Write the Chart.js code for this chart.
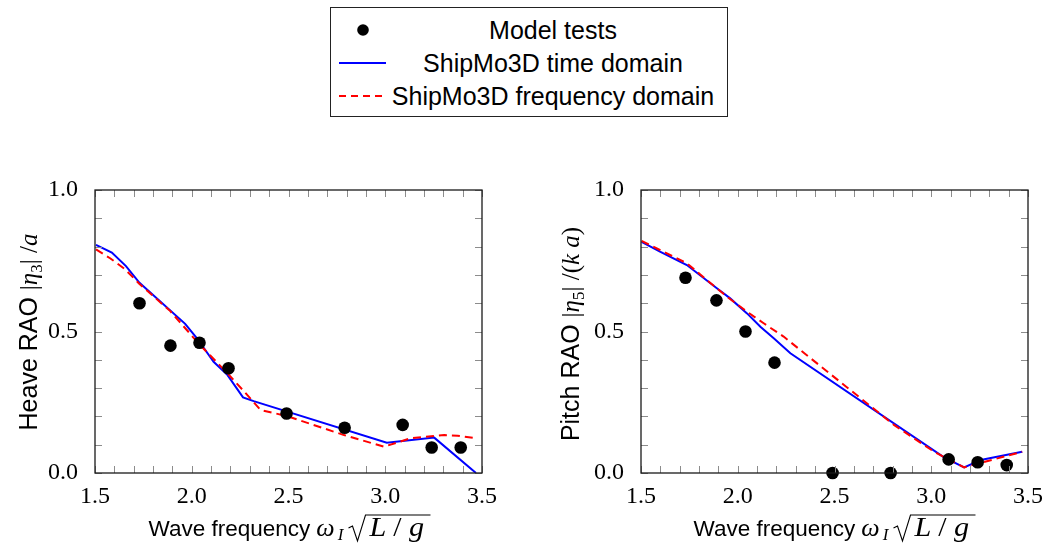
<!DOCTYPE html>
<html>
<head>
<meta charset="utf-8">
<script src="https://cdn.jsdelivr.net/npm/chart.js@4.4.1/dist/chart.umd.min.js"></script>
<style>
body { margin: 0; width: 1050px; height: 554px; position: relative; background: #fff; overflow: hidden; font-family: "Liberation Sans", Arial, sans-serif; }
#legend { position: absolute; left: 330px; top: 7px; width: 398px; height: 110px; border: 1px solid #222; box-sizing: border-box; }
.row { position: absolute; left: 0; width: 100%; height: 32px; }
.sym { position: absolute; left: 7px; top: 0; width: 48px; height: 32px; }
.txt { position: absolute; left: 56px; right: 8px; top: 0; text-align: center; font-size: 25px; line-height: 32px; color: #000; white-space: nowrap; }
#heave { position: absolute; left: 0; top: 120px; }
#pitch { position: absolute; left: 525px; top: 120px; }
</style>
</head>
<body>
<div id="legend"></div>
<canvas id="heave" width="525" height="434"></canvas>
<canvas id="pitch" width="525" height="434"></canvas>
<script>
// series labels (shared legend)
var seriesLabels = ["Model tests", "ShipMo3D time domain", "ShipMo3D frequency domain"];

// wave frequency of the model tests (both panels)
var testFreq = [1.73, 1.89, 2.04, 2.19, 2.49, 2.79, 3.09, 3.24, 3.39];

// heave RAO
var heaveTest = [0.60, 0.45, 0.46, 0.37, 0.21, 0.16, 0.17, 0.09, 0.09];
var heaveTimeFreq = [1.505, 1.587, 1.66, 1.73, 1.966, 2.027, 2.113, 2.185, 2.265, 2.32, 3.008, 3.253, 3.469];
var heaveTime = [0.806, 0.779, 0.731, 0.672, 0.527, 0.476, 0.393, 0.346, 0.267, 0.254, 0.107, 0.125, 0.0];
var heaveFreqFreq = [1.505, 1.578, 1.655, 1.73, 1.889, 2.035, 2.185, 2.268, 2.355, 2.493, 2.787, 2.994, 3.132, 3.305, 3.374, 3.469];
var heaveFreq = [0.790, 0.759, 0.720, 0.668, 0.572, 0.458, 0.352, 0.290, 0.223, 0.201, 0.134, 0.093, 0.123, 0.134, 0.132, 0.123];

// pitch RAO
var pitchTest = [0.69, 0.61, 0.50, 0.39, 0.0, 0.0, 0.048, 0.038, 0.028];
var pitchTimeFreq = [1.503, 1.598, 1.737, 1.892, 1.961, 2.048, 2.117, 2.186, 2.272, 3.066, 3.17, 3.256, 3.47];
var pitchTime = [0.817, 0.782, 0.735, 0.653, 0.617, 0.564, 0.517, 0.476, 0.423, 0.055, 0.020, 0.046, 0.075];
var pitchFreqFreq = [1.503, 1.737, 1.944, 2.048, 2.134, 2.237, 2.807, 3.015, 3.17, 3.47];
var pitchFreq = [0.82, 0.741, 0.623, 0.57, 0.529, 0.482, 0.170, 0.075, 0.020, 0.075];

// axes
var xRange = [1.5, 3.5];
var yRange = [0, 1];
var xTicks = [1.5, 2.0, 2.5, 3.0, 3.5];
var yTicks = [0.0, 0.5, 1.0];

var SANS = '"Liberation Sans", Arial, sans-serif';
var SERIF = '"Liberation Serif", "DejaVu Serif", serif';

function pts(xs, ys) {
    return xs.map(function (x, i) { return { x: x, y: ys[i] }; });
}

// legend
(function () {
    var lg = document.getElementById("legend");
    var syms = [
        '<svg width="48" height="32"><circle cx="25" cy="16" r="5.8" fill="#000"/></svg>',
        '<svg width="48" height="32"><line x1="1" y1="16" x2="48" y2="16" stroke="#0000ff" stroke-width="2"/></svg>',
        '<svg width="48" height="32"><line x1="1" y1="16" x2="48" y2="16" stroke="#ff0000" stroke-width="2" stroke-dasharray="7 5"/></svg>'
    ];
    for (var i = 0; i < seriesLabels.length; i++) {
        var row = document.createElement("div");
        row.className = "row";
        row.style.top = (6 + i * 33) + "px";
        row.innerHTML = '<div class="sym">' + syms[i] + '</div><div class="txt">' + seriesLabels[i] + '</div>';
        lg.appendChild(row);
    }
})();

// draw a line of mixed-font text, centred at cx, baseline at cy
// run: t text, f font, dy shift, sx horizontal stretch, adv fixed advance,
// root = radical sign with an overline of length bar
function drawRuns(ctx, runs, cx, cy, rotate) {
    ctx.save();
    ctx.translate(cx, cy);
    if (rotate) ctx.rotate(-Math.PI / 2);
    ctx.fillStyle = "#000";
    ctx.strokeStyle = "#000";
    ctx.textBaseline = "alphabetic";
    ctx.textAlign = "left";
    var total = 0;
    runs.forEach(function (r) {
        if (r.root) { r.w = r.adv; }
        else {
            ctx.font = r.f;
            r.gw = ctx.measureText(r.t).width * (r.sx || 1);
            r.w = r.adv || r.gw;
        }
        total += r.w;
    });
    var x = -total / 2;
    runs.forEach(function (r) {
        if (r.root) {
            var top = -21;
            ctx.lineWidth = 1.1;
            ctx.beginPath();
            ctx.moveTo(x + 2, -8);
            ctx.lineTo(x + 6, -10);
            ctx.lineTo(x + 11, 5);
            ctx.lineTo(x + r.w - 1, top);
            ctx.lineTo(x + r.w + r.bar, top);
            ctx.stroke();
        } else {
            ctx.font = r.f;
            ctx.save();
            ctx.translate(x + (r.w - r.gw) / 2, r.dy || 0);
            ctx.scale(r.sx || 1, 1);
            ctx.fillText(r.t, 0, 0);
            ctx.restore();
        }
        x += r.w;
    });
    ctx.restore();
}

var framePlugin = {
    id: "frame",
    afterDraw: function (chart, args, opts) {
        var ctx = chart.ctx, a = chart.chartArea;
        var xs = chart.scales.x, ys = chart.scales.y;
        ctx.save();
        // inward ticks on all four sides every 0.1
        ctx.strokeStyle = "#8c8c8c";
        ctx.lineWidth = 1;
        ctx.beginPath();
        for (var k = 0; k <= 20; k++) {
            var px = Math.round(xs.getPixelForValue(xRange[0] + k * 0.1)) + 0.5;
            ctx.moveTo(px, a.bottom); ctx.lineTo(px, a.bottom - 7);
            ctx.moveTo(px, a.top); ctx.lineTo(px, a.top + 7);
        }
        for (var j = 0; j <= 10; j++) {
            var py = Math.round(ys.getPixelForValue(yRange[0] + j * 0.1)) + 0.5;
            ctx.moveTo(a.left, py); ctx.lineTo(a.left + 7, py);
            ctx.moveTo(a.right, py); ctx.lineTo(a.right - 7, py);
        }
        ctx.stroke();
        ctx.strokeStyle = "#1a1a1a";
        ctx.lineWidth = 1.3;
        ctx.strokeRect(a.left, a.top, a.right - a.left, a.bottom - a.top);
        ctx.restore();
        drawRuns(ctx, opts.xTitle, opts.xPos[0], opts.xPos[1], false);
        drawRuns(ctx, opts.yTitle, opts.yPos[0], opts.yPos[1], true);
    }
};

var xTitleRuns = function () {
    return [
        { t: "Wave frequency ", f: "22.5px " + SANS },
        { t: "\u03c9", f: "italic 26px " + SERIF, adv: 18 },
        { t: "I", f: "italic 17px " + SERIF, dy: 4, adv: 12 },
        { root: true, adv: 20, bar: 64 },
        { t: "L", f: "italic 27px " + SERIF, sx: 1.12, adv: 23 },
        { t: "/", f: "27px " + SERIF, sx: 1.1, adv: 16 },
        { t: "g", f: "italic 27px " + SERIF, sx: 1.12, adv: 22 }
    ];
};

function makeChart(id, test, timeF, time, freqF, freq, yTitle, yAxisWidth, padRight, xPos, yPos) {
    var ctx = document.getElementById(id).getContext("2d");
    return new Chart(ctx, {
        type: "scatter",
        data: {
            datasets: [
                {
                    label: seriesLabels[0],
                    data: pts(testFreq, test),
                    pointRadius: 6.3,
                    pointBackgroundColor: "#000",
                    pointBorderWidth: 0,
                    showLine: false,
                    clip: false,
                    order: 0
                },
                {
                    label: seriesLabels[1],
                    data: pts(timeF, time),
                    showLine: true,
                    borderColor: "#0000ff",
                    borderWidth: 2,
                    pointRadius: 0,
                    tension: 0,
                    order: 2
                },
                {
                    label: seriesLabels[2],
                    data: pts(freqF, freq),
                    showLine: true,
                    borderColor: "#ff0000",
                    borderWidth: 2,
                    borderDash: [8, 5],
                    pointRadius: 0,
                    tension: 0,
                    order: 1
                }
            ]
        },
        options: {
            responsive: false,
            animation: false,
            layout: { padding: { top: 70, right: padRight, left: 0, bottom: 0 } },
            plugins: {
                legend: { display: false },
                tooltip: { enabled: false },
                frame: { xTitle: xTitleRuns(), yTitle: yTitle, xPos: xPos, yPos: yPos }
            },
            scales: {
                x: {
                    type: "linear",
                    min: xRange[0],
                    max: xRange[1],
                    grid: { display: false },
                    border: { display: false },
                    afterBuildTicks: function (s) { s.ticks = xTicks.map(function (v) { return { value: v }; }); },
                    afterFit: function (s) { s.height = 81; },
                    ticks: {
                        padding: 1,
                        color: "#000",
                        font: { family: SERIF, size: 24 },
                        maxRotation: 0,
                        callback: function (v) { return v.toFixed(1); }
                    }
                },
                y: {
                    type: "linear",
                    min: yRange[0],
                    max: yRange[1],
                    grid: { display: false },
                    border: { display: false },
                    afterBuildTicks: function (s) { s.ticks = yTicks.map(function (v) { return { value: v }; }); },
                    afterFit: function (s) { s.width = yAxisWidth; },
                    ticks: {
                        padding: 9,
                        color: "#000",
                        font: { family: SERIF, size: 24 },
                        callback: function (v) { return v.toFixed(1); }
                    }
                }
            }
        },
        plugins: [framePlugin]
    });
}

makeChart("heave", heaveTest, heaveTimeFreq, heaveTime, heaveFreqFreq, heaveFreq,
    [
        { t: "Heave RAO ", f: "25px " + SANS },
        { t: "|", f: "25px " + SERIF },
        { t: "\u03b7", f: "italic 25px " + SERIF },
        { t: "3", f: "17px " + SERIF, dy: 5 },
        { t: "| /", f: "25px " + SERIF },
        { t: "a", f: "italic 25px " + SERIF }
    ],
    95, 43, [288, 416], [37, 212]);

makeChart("pitch", pitchTest, pitchTimeFreq, pitchTime, pitchFreqFreq, pitchFreq,
    [
        { t: "Pitch RAO ", f: "25px " + SANS },
        { t: "|", f: "25px " + SERIF },
        { t: "\u03b7", f: "italic 25px " + SERIF },
        { t: "5", f: "17px " + SERIF, dy: 5 },
        { t: "| /(", f: "25px " + SERIF },
        { t: "k a", f: "italic 25px " + SERIF },
        { t: ")", f: "25px " + SERIF }
    ],
    116, 22, [308, 416], [54, 214]);
</script>
</body>
</html>
